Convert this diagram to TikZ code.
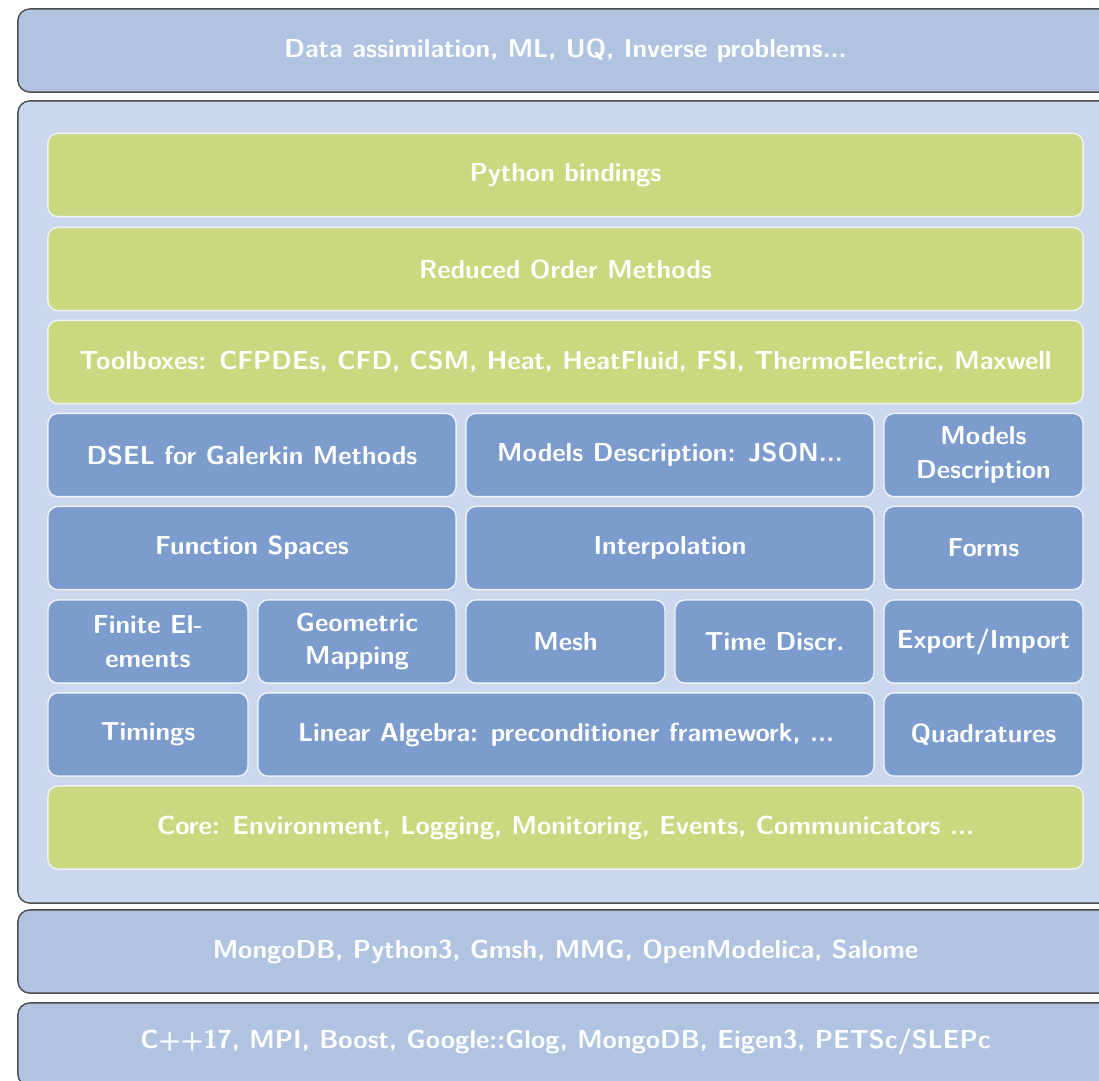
\documentclass[tikz,border=0pt]{standalone}
\usepackage{tikz}
\usetikzlibrary{positioning, calc}

\definecolor{layerblue}{RGB}{176,196,226}
\definecolor{stackbg}{RGB}{202,215,236}
\definecolor{libgreen}{RGB}{203,216,127}
\definecolor{libblue}{RGB}{123,156,204}

\tikzset{
    layer/.style={draw=black!70, line width=1pt, rounded corners=0.3cm, fill=layerblue},
    layertext/.style={text=white, font=\sffamily\bfseries\fontsize{18.5}{24}\selectfont},
    block/.style={draw=white!70!stackbg, line width=1pt, rounded corners=0.25cm,
        minimum height=2.08cm, text=white, align=center, inner sep=2pt,
        font=\sffamily\bfseries\fontsize{18.5}{24}\selectfont},
    gblock/.style={block, fill=libgreen},
    bblock/.style={block, fill=libblue}
}

\begin{document}
\begin{tikzpicture}[x=0.025cm, y=-0.025cm]
    \useasboundingbox (0,0) rectangle (1099,1080);
    \clip (0,0) rectangle (1099,1080);

    % outer layers
    \node (apps) [layer, minimum width=27.75cm, minimum height=2.08cm] at (573,50.5) {};
    \node (stack) [layer, fill=stackbg, minimum width=27.75cm, minimum height=20.05cm] at (573,502) {};
    \node (deps) [layer, minimum width=27.75cm, minimum height=2.08cm] at (573,951.5) {};
    \node (base) [layer, minimum width=27.75cm, minimum height=2.08cm] at (573,1044.5) {};
    \node (appstxt) at (565.5,50.5) [layertext] {Data assimilation, ML, UQ, Inverse problems...};
    \node (depstxt) at (565.5,951.5) [layertext] {MongoDB, Python3, Gmsh, MMG, OpenModelica, Salome};
    \node (basetxt) at (565.5,1042) [layertext] {C++17, MPI, Boost, Google::Glog, MongoDB, Eigen3, PETSc/SLEPc};

    % green rows
    \node (py) [gblock, minimum width=25.875cm] at (565.5,175) {Python bindings};
    \node (rom) [gblock, minimum width=25.875cm] at (565.5,269) {Reduced Order Methods};
    \node (tb) [gblock, minimum width=25.875cm] at (565.5,362) {Toolboxes: CFPDEs, CFD, CSM, Heat, HeatFluid, FSI, ThermoElectric, Maxwell};

    % library blocks
    \node (dsel) [bblock, minimum width=10.2cm] at (252,455) {DSEL for Galerkin Methods};
    \node (json) [bblock, minimum width=10.2cm] at (670,455) {Models Description: JSON...};
    \node (mdesc) [bblock, minimum width=4.975cm] at (983.5,455) {Models\\Description};
    \node (fspace) [bblock, minimum width=10.2cm] at (252,548) {Function Spaces};
    \node (interp) [bblock, minimum width=10.2cm] at (670,548) {Interpolation};
    \node (forms) [bblock, minimum width=4.975cm] at (983.5,548) {Forms};
    \node (fe) [bblock, minimum width=5cm] at (148,641.5) {Finite El-\\ements};
    \node (geo) [bblock, minimum width=4.95cm] at (357,641.5) {Geometric\\Mapping};
    \node (mesh) [bblock, minimum width=4.975cm] at (565.5,641.5) {Mesh};
    \node (tdisc) [bblock, minimum width=4.975cm] at (774.5,641.5) {Time Discr.};
    \node (io) [bblock, minimum width=4.975cm] at (983.5,641.5) {Export/Import};
    \node (timing) [bblock, minimum width=5cm] at (148,734.5) {Timings};
    \node (linalg) [bblock, minimum width=15.4cm] at (566,734.5) {Linear Algebra: preconditioner framework, ...};
    \node (quad) [bblock, minimum width=4.975cm] at (983.5,734.5) {Quadratures};

    \node (core) [gblock, minimum width=25.875cm] at (565.5,827.5) {Core: Environment, Logging, Monitoring, Events, Communicators ...};
\end{tikzpicture}
\end{document}
